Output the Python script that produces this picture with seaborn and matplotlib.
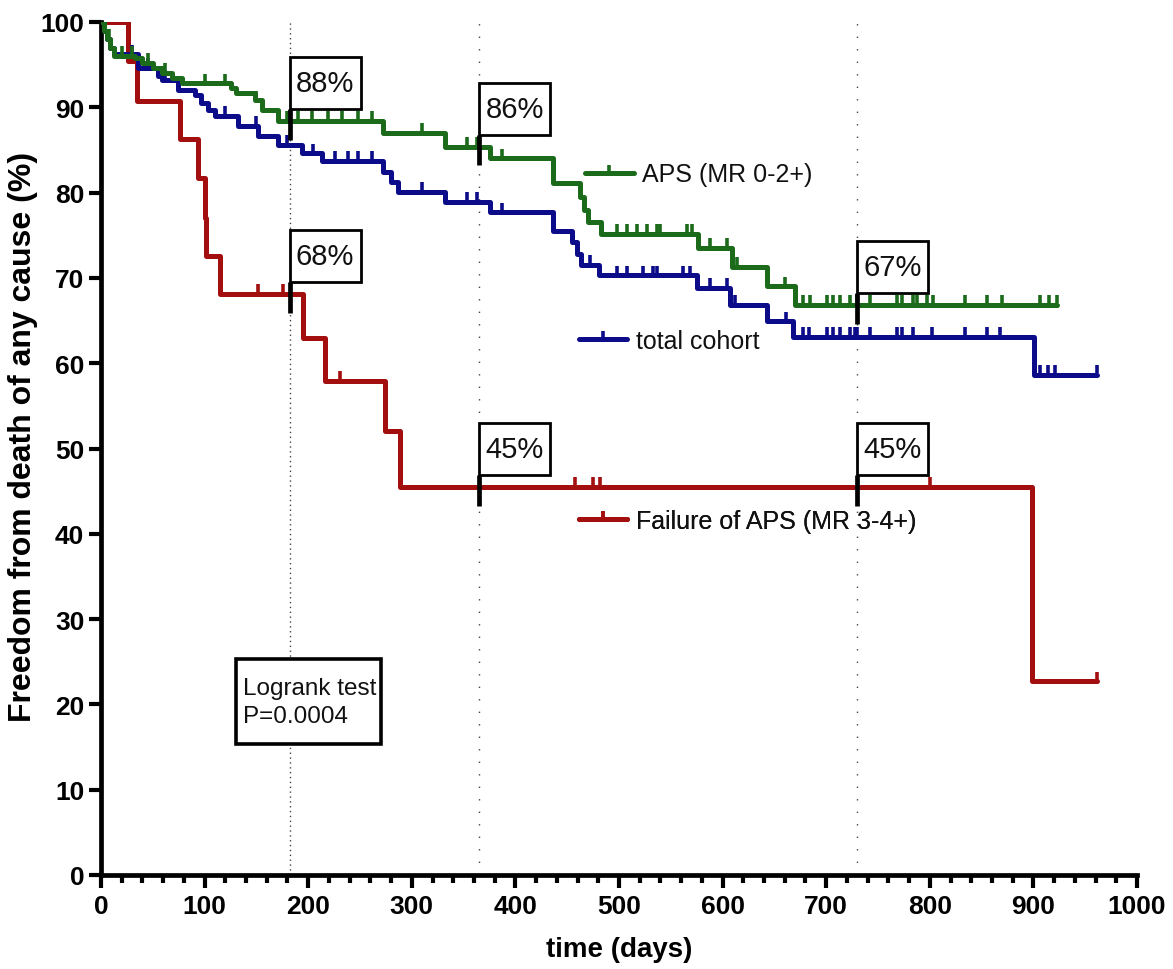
import numpy as np
import pandas as pd
import matplotlib
matplotlib.use("Agg")
import matplotlib.pyplot as plt
import seaborn as sns
from matplotlib.lines import Line2D
from matplotlib.patches import Rectangle
from matplotlib import font_manager

# ---------------- data ----------------
green_t = [0, 3, 6, 9, 13, 33, 40, 50, 59, 69, 78, 125, 130, 149, 155, 171, 272, 332, 375,
           436, 462, 466, 470, 483, 576, 609, 643, 670, 923]
green_s = [100, 99, 98, 97, 96, 95.8, 95.2, 94.6, 94.0, 93.4, 92.8, 92.3, 91.7, 90.8, 89.7,
           88.4, 87.0, 85.4, 84.0, 81.1, 79.5, 78.0, 76.6, 75.2, 73.5, 71.3, 69.0, 66.8, 66.8]
green_cens = [8, 20, 30, 45, 62, 100, 120, 150, 180, 190, 204, 219, 233, 248, 262, 310, 353,
              363, 387, 470, 498, 508, 517, 527, 537, 540, 566, 570, 588, 604, 614, 660,
              678, 684, 701, 707, 713, 723, 730, 742, 768, 773, 784, 788, 797, 803, 834,
              855, 870, 906, 915, 923]

blue_t = [0, 3, 6, 9, 13, 36, 55, 59, 74, 91, 97, 103, 110, 132, 152, 171, 194, 213, 272,
          280, 287, 332, 375, 436, 455, 459, 463, 481, 575, 607, 643, 668, 901, 961]
blue_s = [100, 99, 98, 97, 96.2, 94.6, 93.7, 93.2, 92.0, 91.4, 90.5, 89.7, 89.0, 87.8, 86.6,
          85.6, 84.6, 83.7, 82.4, 81.2, 80.1, 78.9, 77.7, 75.5, 74.2, 72.8, 71.5, 70.3,
          68.8, 66.8, 64.9, 63.1, 58.6, 58.6]
blue_cens = [30, 45, 62, 120, 150, 180, 205, 226, 238, 248, 262, 310, 353, 363, 387, 472,
             498, 508, 523, 533, 537, 562, 569, 588, 604, 612, 661, 678, 683, 701, 707, 713,
             723, 728, 730, 742, 768, 773, 784, 802, 834, 855, 868, 906, 914, 921, 961]

red_t = [0, 26, 35, 76, 94, 100, 101.5, 115, 195, 216, 274, 289, 899, 961]
red_s = [100, 95.4, 90.7, 86.3, 81.7, 77.0, 72.6, 68.1, 62.9, 57.9, 52.0, 45.5, 22.7, 22.7]
red_cens = [152, 176, 231, 458, 475, 482, 800, 961]

series_names = ["APS (MR 0-2+)", "total cohort", "Failure of APS (MR 3-4+)"]
colors = ["#1b6b1b", "#0c0c8a", "#a30f0f"]

ref_days = [182, 365, 730]
ann_x = [182, 365, 182, 365, 730, 730]
ann_level = [88.4, 85.4, 68.1, 45.5, 66.8, 45.5]
ann_text = ["88%", "86%", "68%", "45%", "67%", "45%"]

x_ticks = list(range(0, 1001, 100))
y_ticks = list(range(0, 101, 10))

# ---------------- style ----------------
sns.set_theme(style="ticks")
names = {f.name for f in font_manager.fontManager.ttflist}
narrow = "Liberation Sans Narrow" if "Liberation Sans Narrow" in names else "Liberation Sans"
plt.rcParams["font.family"] = ["Liberation Sans", "DejaVu Sans"]
plt.rcParams["text.color"] = "black"
plt.rcParams["axes.labelcolor"] = "black"
plt.rcParams["xtick.color"] = "black"
plt.rcParams["ytick.color"] = "black"

LW = 3.6

fig = plt.figure(figsize=(11.73, 9.70), dpi=100)
ax = fig.add_axes([101 / 1173, 1 - 876 / 970, (1137 - 101) / 1173, (876 - 23) / 970])

def step_val(t, s, x):
    i = np.searchsorted(np.asarray(t), x, side="right") - 1
    return np.asarray(s)[np.clip(i, 0, len(s) - 1)]

data = [(green_t, green_s, green_cens), (blue_t, blue_s, blue_cens), (red_t, red_s, red_cens)]
for idx in [2, 1, 0]:
    t, s, c = data[idx]
    df = pd.DataFrame({"t": t, "s": s})
    sns.lineplot(data=df, x="t", y="s", ax=ax, drawstyle="steps-post", color=colors[idx],
                 linewidth=LW, estimator=None, legend=False, zorder=3 + (2 - idx))
    cdf = pd.DataFrame({"t": c, "s": step_val(t, s, c)})
    ax.plot(cdf["t"], cdf["s"] + 0.2, linestyle="none", marker=2, markersize=6,
            markeredgewidth=2.6, color=colors[idx], zorder=3 + (2 - idx))

# reference dotted lines
for d, ls in zip(ref_days, [(0, (1, 2.5)), (0, (1, 8)), (0, (1, 8))]):
    ax.axvline(d, color="#444444", linewidth=1.0, linestyle=ls, zorder=1)

# percentage boxes
box_w, box_h = 68.5, 6.1
for x, lev, txt in zip(ann_x, ann_level, ann_text):
    bottom = lev + 1.4
    ax.plot([x, x], [lev - 2.2, bottom], color="black", linewidth=3.4, zorder=8,
            solid_capstyle="butt")
    ax.add_patch(Rectangle((x, bottom), box_w, box_h, facecolor="white", edgecolor="black",
                           linewidth=2.0, zorder=9))
    ax.text(x + box_w / 2, bottom + box_h / 2, txt, ha="center", va="center", fontsize=21,
            zorder=10, color="#111111")

# inline legends
leg_pos = [(0.467, 0.8215), (0.461, 0.626), (0.461, 0.415)]
for idx in range(3):
    h = Line2D([0], [0], color=colors[idx], linewidth=LW, marker=2, markersize=6,
               markeredgewidth=2.6)
    leg = ax.legend(handles=[h], labels=[series_names[idx]], loc="center left",
                    bbox_to_anchor=leg_pos[idx], frameon=False, fontsize=18,
                    handlelength=1.95, handletextpad=0.35, borderpad=0, borderaxespad=0,
                    markerscale=1.0)
    for tx in leg.get_texts():
        tx.set_color("#111111")
    ax.add_artist(leg)

# logrank box
ax.add_patch(Rectangle((130, 15.4), 140, 9.9, facecolor="white", edgecolor="black",
                       linewidth=2.6, zorder=9))
ax.text(137, 20.3, "Logrank test\nP=0.0004", ha="left", va="center", fontsize=17.5,
        linespacing=1.35, zorder=10, color="#111111")

# axes formatting
ax.set_xlim(0, 1000)
ax.set_ylim(0, 100)
ax.set_xticks(x_ticks)
ax.set_xticks(list(range(0, 1001, 20)), minor=True)
ax.set_yticks(y_ticks)
ax.tick_params(axis="x", which="major", length=9, width=3, direction="out", pad=5,
               colors="black")
ax.tick_params(axis="x", which="minor", length=6, width=3, direction="out", colors="black")
ax.tick_params(axis="y", which="major", length=9, width=3, direction="out", pad=3,
               colors="black")
ax.tick_params(axis="y", which="minor", length=0)
for lab in ax.get_xticklabels() + ax.get_yticklabels():
    lab.set_fontfamily([narrow, "DejaVu Sans"])
    lab.set_fontweight("bold")
    lab.set_fontsize(19)
for sp in ["top", "right"]:
    ax.spines[sp].set_visible(False)
for sp in ["left", "bottom"]:
    ax.spines[sp].set_linewidth(3.4)
    ax.spines[sp].set_color("black")
ax.set_facecolor("white")
ax.set_xlabel("time (days)", fontsize=20, fontweight="bold",
              fontfamily=[narrow, "DejaVu Sans"], color="black")
ax.set_ylabel("Freedom from death of any cause (%)", fontsize=23, fontweight="bold",
              fontfamily=["Liberation Sans", "DejaVu Sans"], color="black")
ax.yaxis.set_label_coords(-0.061, 0.515)
ax.xaxis.set_label_coords(0.5, -0.071)

fig.savefig("out.png", dpi=100, facecolor="white")
